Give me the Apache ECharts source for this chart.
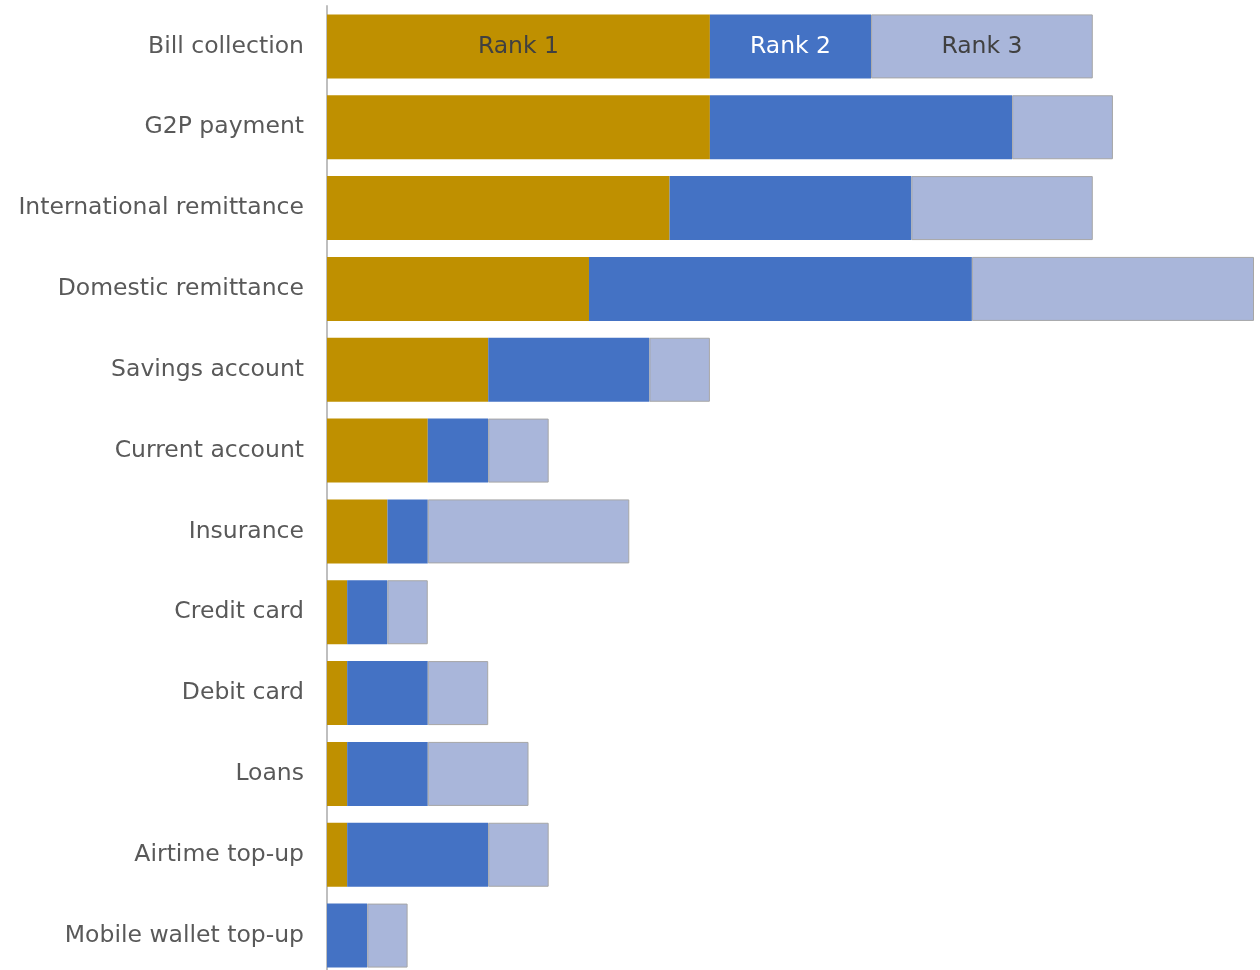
<!DOCTYPE html>
<html>
<head>
<meta charset="utf-8">
<script src="https://cdn.jsdelivr.net/npm/echarts@6/dist/echarts.min.js"></script>
<style>
  html, body { margin: 0; padding: 0; background: #ffffff; }
  #chart { width: 1260px; height: 970px; }
</style>
</head>
<body>
<div id="chart"></div>
<script>
// Product categories, top to bottom
const categories = [
  'Bill collection', 'G2P payment', 'International remittance', 'Domestic remittance',
  'Savings account', 'Current account', 'Insurance', 'Credit card',
  'Debit card', 'Loans', 'Airtime top-up', 'Mobile wallet top-up'
];

// Counts per rank
const rankNames = ['Rank 1', 'Rank 2', 'Rank 3'];
const rank1 = [19, 19, 17, 13, 8, 5, 3, 1, 1, 1, 1, 0];
const rank2 = [8, 15, 12, 19, 8, 3, 2, 2, 4, 4, 7, 2];
const rank3 = [11, 5, 9, 14, 3, 3, 10, 2, 3, 5, 3, 2];

const rankColors = ['#BF9000', '#4472C4', '#A9B6DA'];
const rankLabelColors = ['#404040', '#ffffff', '#404040'];

const chart = echarts.init(document.getElementById('chart'), null, { renderer: 'canvas' });

// Series names are written inside the first bar instead of a legend
function buildSeries(name, values, idx) {
  return {
    name: name,
    type: 'bar',
    stack: 'total',
    barWidth: 64,
    itemStyle: idx === 2
      ? { color: rankColors[idx], borderColor: '#A6A6A6', borderWidth: 1 }
      : { color: rankColors[idx] },
    label: {
      show: false,
      position: 'inside',
      formatter: name,
      fontFamily: 'DejaVu Sans',
      fontSize: 23.5,
      color: rankLabelColors[idx]
    },
    emphasis: { disabled: true },
    data: values.map((v, i) => i === 0
      ? { value: v, label: { show: true } }
      : v)
  };
}

chart.setOption({
  animation: false,
  backgroundColor: '#ffffff',
  // the last row runs slightly past the bottom edge
  grid: { left: 327, right: 6, top: 6, height: 970, containLabel: false, outerBoundsMode: 'none' },
  xAxis: {
    type: 'value',
    min: 0,
    max: 46,
    show: false
  },
  yAxis: {
    type: 'category',
    data: categories,
    inverse: true,
    axisLine: { show: true, lineStyle: { color: '#BFBFBF', width: 2 } },
    axisTick: { show: false },
    splitLine: { show: false },
    axisLabel: {
      margin: 23,
      fontFamily: 'DejaVu Sans',
      fontSize: 23.5,
      color: '#595959'
    }
  },
  series: [
    buildSeries(rankNames[0], rank1, 0),
    buildSeries(rankNames[1], rank2, 1),
    buildSeries(rankNames[2], rank3, 2)
  ]
});
</script>
</body>
</html>
